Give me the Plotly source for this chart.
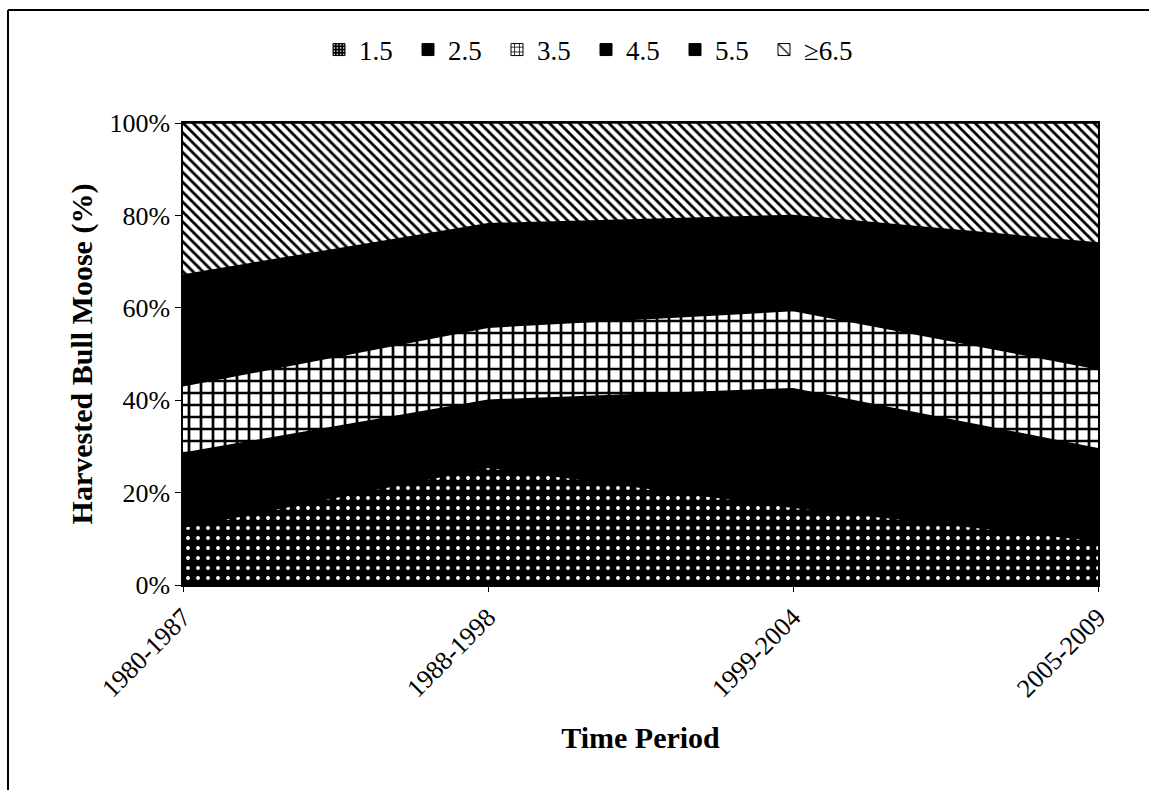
import plotly.graph_objects as go

periods = ["1980-1987", "1988-1998", "1999-2004", "2005-2009"]
age_classes = ["1.5", "2.5", "3.5", "4.5", "5.5", "≥6.5"]

# Percent of harvested bull moose by age class (stacked to 100%)
pct_1_5 = [12.5, 25.5, 16.8, 9.6]
pct_2_5 = [16.0, 14.5, 25.7, 19.9]
pct_3_5 = [14.6, 15.8, 16.9, 17.3]
pct_4_5 = [12.0, 11.0, 10.0, 13.5]
pct_5_5 = [12.0, 11.4, 10.6, 13.7]
pct_6_5 = [32.9, 21.8, 20.0, 26.0]

y_ticks = [0, 20, 40, 60, 80, 100]
y_tick_labels = ["0%", "20%", "40%", "60%", "80%", "100%"]

series = [pct_1_5, pct_2_5, pct_3_5, pct_4_5, pct_5_5, pct_6_5]
patterns = [
    dict(shape=".", fgcolor="white", bgcolor="black", size=10, solidity=0.12, fillmode="replace"),
    None,
    dict(shape="+", fgcolor="black", bgcolor="white", size=12, solidity=0.4, fillmode="replace"),
    None,
    None,
    dict(shape="\\", fgcolor="black", bgcolor="white", size=7, solidity=0.4, fillmode="replace"),
]
legend_patterns = [
    dict(shape=".", fgcolor="white", bgcolor="black", size=4, solidity=0.2, fillmode="replace"),
    None,
    dict(shape="+", fgcolor="black", bgcolor="white", size=6, solidity=0.3, fillmode="replace"),
    None,
    None,
    dict(shape="\\", fgcolor="black", bgcolor="white", size=12, solidity=0.15, fillmode="replace"),
]
fillcolors = ["black", "black", "white", "black", "black", "white"]

fig = go.Figure()
for name, vals, pat, fc in zip(age_classes, series, patterns, fillcolors):
    kw = dict(fillpattern=pat) if pat else {}
    fig.add_trace(go.Scatter(
        x=periods, y=vals, name=name, mode="lines",
        stackgroup="one", line=dict(width=1.5, color="black"),
        fillcolor=fc, showlegend=False, **kw,
    ))

# legend-only entries (square swatches)
for name, pat, fc in zip(age_classes, legend_patterns, fillcolors):
    mk = dict(color=fc, line=dict(color="black", width=1))
    if pat:
        mk["pattern"] = pat
    fig.add_trace(go.Bar(x=[None], y=[None], name=name, marker=mk, showlegend=True))

# plot area geometry (pixels)
W, H = 1149, 790
L, R, T, B = 183, 1098, 123, 585
pw, ph = R - L, B - T

def px_x(px):
    return (px - L) / pw

def px_y(py):
    return (B - py) / ph

serif = "Liberation Serif, Times New Roman, serif"

fig.update_layout(
    width=W, height=H,
    margin=dict(l=L, r=W - R, t=T, b=H - B, pad=0),
    paper_bgcolor="white", plot_bgcolor="white",
    font=dict(family=serif, color="black", size=26),
    showlegend=True,
    legend=dict(
        orientation="h", x=px_x(586), xanchor="center", y=px_y(50), yanchor="middle",
        font=dict(size=27, family=serif), traceorder="normal",
        itemwidth=30, entrywidth=44, entrywidthmode="pixels",
        bgcolor="rgba(0,0,0,0)",
    ),
    xaxis=dict(
        range=[0, len(periods) - 1], showgrid=False, zeroline=False,
        showline=True, mirror=True, linecolor="black", linewidth=1.5,
        ticks="outside", ticklen=5, tickcolor="black", tickangle=-45,
        tickfont=dict(size=26, family=serif),
        title=dict(text="<b>Time Period</b>", font=dict(size=30, family=serif), standoff=25),
    ),
    yaxis=dict(
        range=[0, 100], tickvals=y_ticks, ticktext=y_tick_labels,
        showgrid=False, zeroline=False,
        showline=True, mirror=True, linecolor="black", linewidth=1.5,
        ticks="outside", ticklen=6, tickcolor="black",
        tickfont=dict(size=26, family=serif),
        title=dict(text="<b>Harvested Bull Moose (%)</b>", font=dict(size=30, family=serif), standoff=8),
    ),
    shapes=[
        dict(type="line", xref="paper", yref="paper",
             x0=px_x(8), x1=px_x(8), y0=px_y(10), y1=px_y(800),
             line=dict(color="black", width=2)),
        dict(type="line", xref="paper", yref="paper",
             x0=px_x(8), x1=px_x(1160), y0=px_y(10), y1=px_y(10),
             line=dict(color="black", width=2)),
    ],
)

fig.write_html("out.html")
